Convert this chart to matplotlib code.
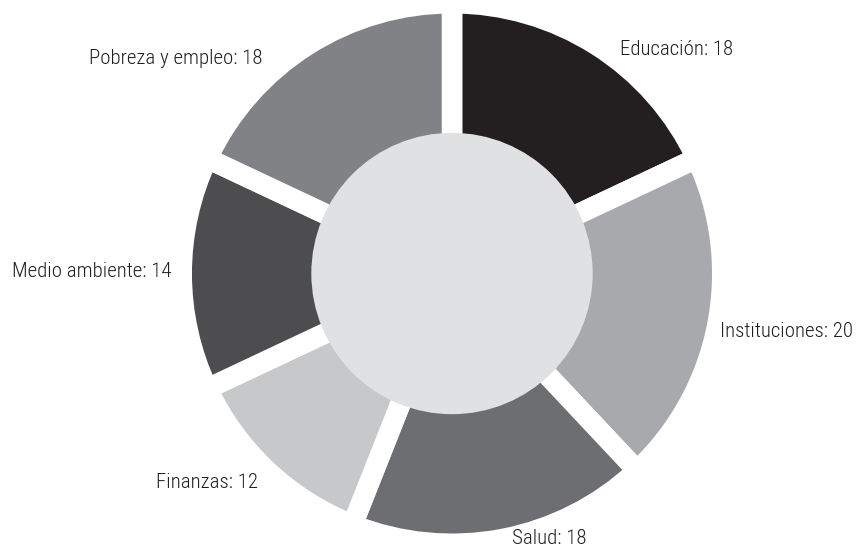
import numpy as np
import matplotlib
matplotlib.use("Agg")
import matplotlib.pyplot as plt
from matplotlib.patches import Circle

categories = ["Educación", "Instituciones", "Salud", "Finanzas", "Medio ambiente", "Pobreza y empleo"]
values = [18, 20, 18, 12, 14, 18]
colors = ["#231f20", "#a7a9ac", "#6d6e71", "#c7c8ca", "#4d4d4f", "#808285"]
# label nudges in points (layout only)
nudges = [(14.6, -6.3), (-2.0, -4.5), (6.0, 4.2), (-3.8, -5.8), (-3.1, 1.4), (-30.4, -12.8)]

plt.rcParams['font.family'] = ['Roboto Condensed', 'DejaVu Sans']

fig = plt.figure(figsize=(8.56, 5.48), dpi=100)
ax = fig.add_axes([0, 0, 1, 1])

R = 270.3  # px per data unit
cx, cy = 452.0, 273.5

wedges, _ = ax.pie(values, colors=colors, startangle=90, counterclock=False,
                   radius=1.0, wedgeprops=dict(edgecolor='white', linewidth=14.8))

# light grey centre disc
ax.add_patch(Circle((0, 0), 0.5205, facecolor='#e0e1e3', edgecolor='none', zorder=5))

ax.set_xlim(-cx / R, (856 - cx) / R)
ax.set_ylim(-(548 - cy) / R, cy / R)
ax.set_aspect('equal')
ax.axis('off')

total = sum(values)
cum = np.cumsum([0] + values)
for i, (cat, v) in enumerate(zip(categories, values)):
    mid = np.deg2rad(90 - 360 * (cum[i] + v / 2) / total)
    x, y = 1.02 * np.cos(mid), 1.02 * np.sin(mid)
    ha = 'left' if x > 0 else 'right'
    ax.annotate(f"{cat}: {v}", (x, y), xytext=nudges[i], textcoords='offset points',
                ha=ha, va='center', fontsize=15, fontweight='light',
                color='#231f20', zorder=6, annotation_clip=False)

fig.savefig("out.png", dpi=100, facecolor='white')
